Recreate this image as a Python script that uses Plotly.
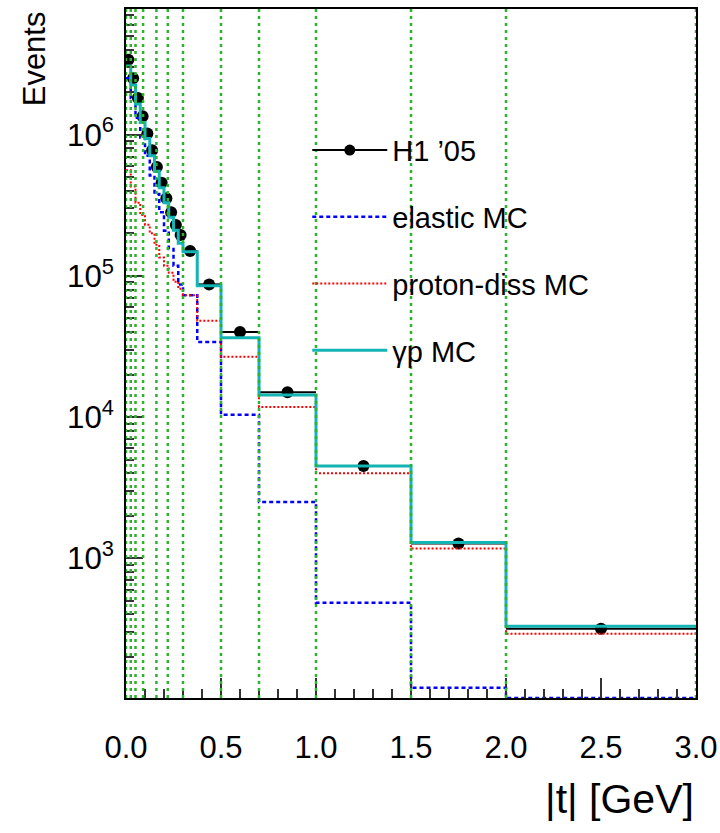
import plotly.graph_objects as go
import numpy as np

# ---- data ----
t_edges = [0.0, 0.025, 0.05, 0.075, 0.1, 0.125, 0.15, 0.175, 0.2, 0.225, 0.25, 0.275,
           0.3, 0.375, 0.5, 0.7, 1.0, 1.5, 2.0, 3.0]
data_events = [3.39e6, 2.51e6, 1.82e6, 1.35e6, 1.02e6, 7.76e5, 5.89e5, 4.57e5, 3.55e5,
               2.82e5, 2.29e5, 1.95e5, 1.50e5, 8.7e4, 4.0e4, 1.5e4, 4.5e3, 1.27e3, 317]
gp_mc = [3.07e6, 2.25e6, 1.65e6, 1.22e6, 9.4e5, 7.1e5, 5.5e5, 4.2e5, 3.3e5,
         2.6e5, 2.1e5, 1.7e5, 1.48e5, 8.5e4, 3.64e4, 1.43e4, 4.5e3, 1.29e3, 330]
elastic_mc = [2.51e6, 1.82e6, 1.32e6, 9.55e5, 7.08e5, 5.13e5, 3.8e5, 2.82e5, 2.09e5,
              1.55e5, 1.18e5, 8.7e4, 7.3e4, 3.4e4, 1.04e4, 2.5e3, 484, 121, 38]
pdiss_mc = [5.6e5, 4.3e5, 3.3e5, 2.7e5, 2.3e5, 2.0e5, 1.66e5, 1.35e5, 1.18e5,
            1.05e5, 9.1e4, 8.1e4, 7.3e4, 4.8e4, 2.67e4, 1.18e4, 4.0e3, 1.17e3, 292]
divider_t = [0.0, 0.025, 0.05, 0.09, 0.16, 0.22, 0.3, 0.5, 0.7, 1.0, 1.5, 2.0, 3.0]
x_tick_vals = [0.0, 0.5, 1.0, 1.5, 2.0, 2.5, 3.0]
x_tick_text = ["0.0", "0.5", "1.0", "1.5", "2.0", "2.5", "3.0"]

LOG_MIN, LOG_MAX = 2.01, 6.89
FONT = "Liberation Sans, Arial, sans-serif"

edges = np.array(t_edges)
centers = 0.5 * (edges[:-1] + edges[1:])
halfw = 0.5 * (edges[1:] - edges[:-1])
floor = 10 ** LOG_MIN


def step_y(vals):
    v = list(np.maximum(np.array(vals, dtype=float), floor))
    return v + [v[-1]]


fig = go.Figure()

# data points (drawn first, MC lines on top as in the reference)
fig.add_trace(go.Scatter(
    x=centers, y=data_events, mode="markers", showlegend=False,
    marker=dict(color="black", size=12, symbol="circle"),
    error_x=dict(type="data", array=halfw, color="black", thickness=2, width=0),
))
# legend entry for data (line + marker sample)
fig.add_trace(go.Scatter(
    x=[None], y=[None], mode="lines+markers", name="H1 \u201905",
    line=dict(color="black", width=2), marker=dict(color="black", size=11),
    legendgroup="a",
))
fig.add_trace(go.Scatter(
    x=t_edges, y=step_y(elastic_mc), mode="lines", line_shape="hv", name="elastic MC",
    line=dict(color="#0000ff", width=2.5, dash="4px,3px"), legendgroup="b",
))
fig.add_trace(go.Scatter(
    x=t_edges, y=step_y(pdiss_mc), mode="lines", line_shape="hv", name="proton-diss MC",
    line=dict(color="#ff0000", width=2, dash="2px,2px"), legendgroup="c",
))
fig.add_trace(go.Scatter(
    x=t_edges, y=step_y(gp_mc), mode="lines", line_shape="hv", name="\u03b3p MC",
    line=dict(color="#14b4b4", width=3), legendgroup="d",
))

for xv in divider_t:
    fig.add_vline(x=xv, line=dict(color="#2eb12e", width=2.5, dash="3px,4px"), layer="above")

fig.update_layout(
    width=720, height=833,
    margin=dict(l=126, r=24, t=9, b=135, autoexpand=False),
    paper_bgcolor="white", plot_bgcolor="white",
    font=dict(family=FONT, color="black"),
    showlegend=True,
    legend=dict(
        x=0.318, y=0.832, xanchor="left", yanchor="top",
        bgcolor="rgba(0,0,0,0)", borderwidth=0,
        font=dict(family=FONT, size=29, color="black"),
        traceorder="grouped", tracegroupgap=26, itemwidth=75,
    ),
    xaxis=dict(
        range=[0, 3], showgrid=False, zeroline=False, automargin=False,
        showline=True, linecolor="black", linewidth=2, mirror=True,
        ticks="inside", ticklen=20, tickwidth=1.5, tickcolor="#333",
        tickvals=x_tick_vals, ticktext=x_tick_text,
        tickfont=dict(family=FONT, size=31, color="black"),
        ticklabelstandoff=21, ticklabeloverflow="allow",
        minor=dict(ticks="inside", ticklen=9, tickwidth=1.5, tickcolor="#333", dtick=0.1,
                   showgrid=False),
    ),
    yaxis=dict(
        type="log", range=[LOG_MIN, LOG_MAX], showgrid=False, zeroline=False, automargin=False,
        showline=True, linecolor="black", linewidth=2, mirror=True,
        ticks="inside", ticklen=17, tickwidth=1.5, tickcolor="#333",
        dtick=1, exponentformat="power",
        tickfont=dict(family=FONT, size=25, color="black"),
        ticklabelstandoff=5,
        minor=dict(ticks="inside", ticklen=8, tickwidth=1.5, tickcolor="#333", dtick="D1",
                   showgrid=False),
    ),
    annotations=[
        dict(text="Events", xref="paper", yref="paper", x=-0.16, y=1.0,
             xanchor="center", yanchor="top", textangle=-90, showarrow=False,
             font=dict(family=FONT, size=31, color="black")),
        dict(text="|t| [GeV]", xref="paper", yref="paper", x=1.0, y=-0.147,
             xanchor="right", yanchor="middle", showarrow=False,
             font=dict(family=FONT, size=41, color="black")),
    ],
)

fig.write_html("out.html")
